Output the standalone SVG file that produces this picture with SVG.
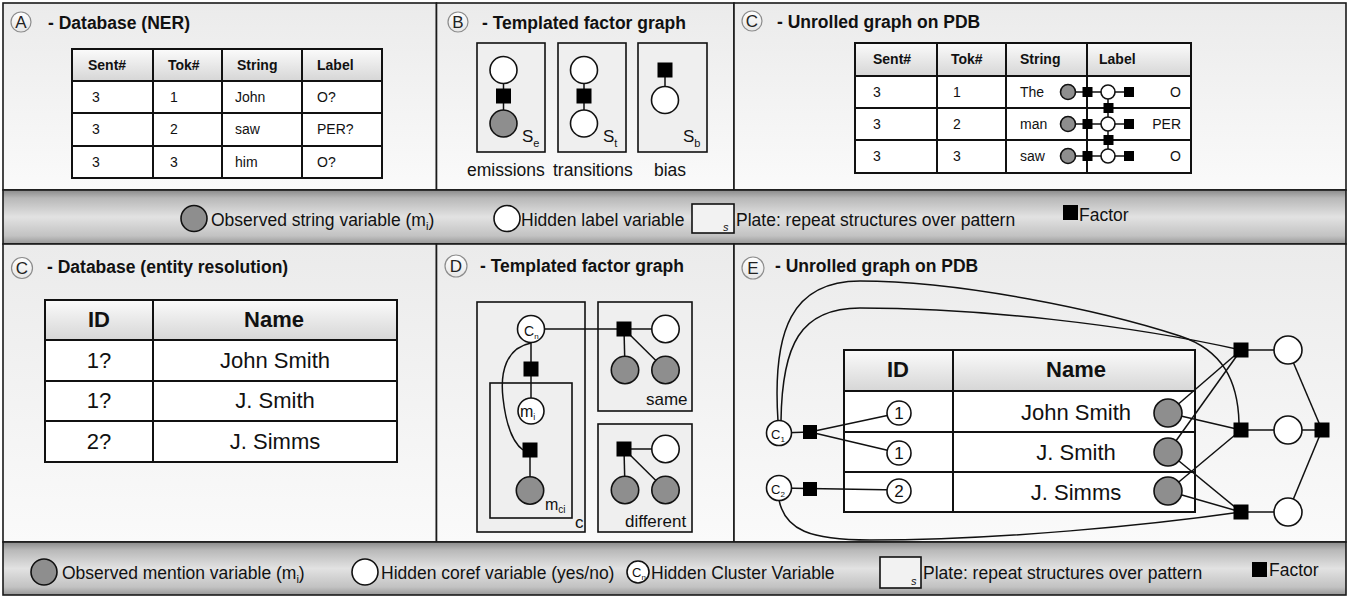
<svg xmlns="http://www.w3.org/2000/svg" width="1355" height="598" viewBox="0 0 1355 598">
<defs>
<linearGradient id="pg" x1="0" y1="0" x2="0" y2="1"><stop offset="0" stop-color="#ebebeb"/><stop offset="1" stop-color="#fafafa"/></linearGradient>
<linearGradient id="lg" x1="0" y1="0" x2="0" y2="1"><stop offset="0" stop-color="#8a8a8a"/><stop offset="0.15" stop-color="#b8b8b8"/><stop offset="0.5" stop-color="#e2e2e2"/><stop offset="0.85" stop-color="#c2c2c2"/><stop offset="1" stop-color="#979797"/></linearGradient>
<linearGradient id="hg" x1="0" y1="0" x2="0" y2="1"><stop offset="0" stop-color="#fbfbfb"/><stop offset="1" stop-color="#d6d6d6"/></linearGradient>
<linearGradient id="cg" x1="0" y1="0" x2="0" y2="1"><stop offset="0" stop-color="#ffffff"/><stop offset="1" stop-color="#e6e6e6"/></linearGradient>
<style>
.panel{fill:url(#pg);stroke:#1a1a1a;stroke-width:1.6}
.legend{fill:url(#lg);stroke:#1a1a1a;stroke-width:1.6}
text{font-family:"Liberation Sans",Arial,Helvetica,sans-serif;fill:#111}
.b{font-weight:bold}
.ttl{font-size:17.5px;font-weight:bold}
.leg{font-size:17.5px}
.lab{fill:url(#cg);stroke:#8c8c8c;stroke-width:1.2}
.labt{font-size:17px;fill:#222;text-anchor:middle}
.obs{fill:#8e8e8e;stroke:#111;stroke-width:1.6}
.hid{fill:#fff;stroke:#111;stroke-width:1.6}
.fac{fill:#000}
.plate{fill:#efefef;stroke:#111;stroke-width:1.6}
.edge{stroke:#111;stroke-width:1.5;fill:none}
.tbl{fill:none;stroke:#111;stroke-width:2}
.tl{stroke:#111;stroke-width:2}
.hdr{fill:url(#hg)}
.cell{fill:#fff}
.sm{font-size:14px}
.big{font-size:22px}
.mid{text-anchor:middle}
.end{text-anchor:end}
</style>
</defs>

<!-- Panel A -->
<g id="panelA">
<rect class="panel" x="3" y="3" width="433.5" height="187"/>
<circle class="lab" cx="21" cy="22" r="10"/>
<text class="labt" x="21" y="28">A</text>
<text class="ttl" x="48" y="29">- Database (NER)</text>
<rect class="hdr" x="72" y="49" width="310" height="32"/>
<rect class="cell" x="72" y="81" width="310" height="97"/>
<line class="tl" x1="72" y1="81" x2="382" y2="81"/>
<line class="tl" x1="72" y1="113" x2="382" y2="113"/>
<line class="tl" x1="72" y1="146" x2="382" y2="146"/>
<line class="tl" x1="153" y1="49" x2="153" y2="178"/>
<line class="tl" x1="222" y1="49" x2="222" y2="178"/>
<line class="tl" x1="302" y1="49" x2="302" y2="178"/>
<rect class="tbl" x="72" y="49" width="310" height="129"/>
<text class="sm b" x="88" y="70">Sent#</text>
<text class="sm b" x="168" y="70">Tok#</text>
<text class="sm b" x="237" y="70">String</text>
<text class="sm b" x="317" y="70">Label</text>
<text class="sm" x="92" y="102">3</text><text class="sm" x="170" y="102">1</text><text class="sm" x="235" y="102">John</text><text class="sm" x="317" y="102">O?</text>
<text class="sm" x="92" y="134">3</text><text class="sm" x="170" y="134">2</text><text class="sm" x="235" y="134">saw</text><text class="sm" x="317" y="134">PER?</text>
<text class="sm" x="92" y="167">3</text><text class="sm" x="170" y="167">3</text><text class="sm" x="235" y="167">him</text><text class="sm" x="317" y="167">O?</text>
</g>

<!-- Panel B -->
<g id="panelB">
<rect class="panel" x="436.5" y="3" width="297.5" height="187"/>
<circle class="lab" cx="458" cy="22" r="10"/>
<text class="labt" x="458" y="28">B</text>
<text class="ttl" x="482" y="29">- Templated factor graph</text>
<rect class="plate" x="477" y="43" width="68" height="109"/>
<rect class="plate" x="558" y="43" width="68" height="109"/>
<rect class="plate" x="638" y="43" width="69" height="109"/>
<text x="522" y="142" font-size="17">S<tspan font-size="11" dy="5">e</tspan></text>
<text x="603" y="142" font-size="17">S<tspan font-size="11" dy="5">t</tspan></text>
<text x="683" y="142" font-size="17">S<tspan font-size="11" dy="5">b</tspan></text>
<text x="467" y="176" font-size="17.5">emissions</text>
<text x="553" y="176" font-size="17.5">transitions</text>
<text x="654" y="176" font-size="17.5">bias</text>
</g>

<!-- Panel C (top) -->
<g id="panelC1">
<rect class="panel" x="734" y="3" width="612" height="187"/>
<circle class="lab" cx="752" cy="21" r="10"/>
<text class="labt" x="752" y="27">C</text>
<text class="ttl" x="777" y="28">- Unrolled graph on PDB</text>
<rect class="hdr" x="855" y="43" width="336" height="33"/>
<rect class="cell" x="855" y="76" width="336" height="97"/>
<line class="tl" x1="855" y1="76" x2="1191" y2="76"/>
<line class="tl" x1="855" y1="108" x2="1191" y2="108"/>
<line class="tl" x1="855" y1="140" x2="1191" y2="140"/>
<line class="tl" x1="937" y1="43" x2="937" y2="173"/>
<line class="tl" x1="1006" y1="43" x2="1006" y2="173"/>
<line class="tl" x1="1087" y1="43" x2="1087" y2="173"/>
<rect class="tbl" x="855" y="43" width="336" height="130"/>
<text class="sm b" x="873" y="64">Sent#</text>
<text class="sm b" x="951" y="64">Tok#</text>
<text class="sm b" x="1020" y="64">String</text>
<text class="sm b" x="1099" y="64">Label</text>
<text class="sm" x="873" y="97">3</text><text class="sm" x="953" y="97">1</text><text class="sm" x="1020" y="97">The</text><text class="sm end" x="1181" y="97">O</text>
<text class="sm" x="873" y="129">3</text><text class="sm" x="953" y="129">2</text><text class="sm" x="1020" y="129">man</text><text class="sm end" x="1181" y="129">PER</text>
<text class="sm" x="873" y="161">3</text><text class="sm" x="953" y="161">3</text><text class="sm" x="1020" y="161">saw</text><text class="sm end" x="1181" y="161">O</text>
</g>

<!-- Legend top -->
<g id="legend1">
<rect class="legend" x="3" y="190" width="1343" height="54"/>
<circle class="obs" cx="194" cy="218.5" r="13"/>
<text class="leg" x="211" y="226">Observed string variable (m<tspan font-size="11" dy="4">i</tspan><tspan dy="-4">)</tspan></text>
<circle class="hid" cx="507" cy="218.5" r="13"/>
<text class="leg" x="521" y="226">Hidden label variable</text>
<rect x="692" y="204" width="42" height="29" fill="#f2f2f2" stroke="#111" stroke-width="1.6"/>
<text x="723" y="231" font-size="11" font-style="italic">s</text>
<text class="leg" x="736" y="226">Plate: repeat structures over pattern</text>
<rect class="fac" x="1063" y="205" width="15" height="15"/>
<text class="leg" x="1079" y="221">Factor</text>
</g>

<!-- Panel C (bottom) -->
<g id="panelC2">
<rect class="panel" x="3" y="244" width="433.5" height="298"/>
<circle class="lab" cx="22" cy="268" r="10.5"/>
<text class="labt" x="22" y="274">C</text>
<text class="ttl" x="47" y="273">- Database (entity resolution)</text>
<rect class="hdr" x="45" y="300" width="352" height="40"/>
<rect class="cell" x="45" y="340" width="352" height="122"/>
<line class="tl" x1="45" y1="340" x2="397" y2="340" stroke-width="2.5"/>
<line class="tl" x1="45" y1="381" x2="397" y2="381"/>
<line class="tl" x1="45" y1="421" x2="397" y2="421"/>
<line class="tl" x1="153" y1="300" x2="153" y2="462" stroke-width="2.5"/>
<rect class="tbl" x="45" y="300" width="352" height="162" stroke-width="2.5"/>
<text class="big b mid" x="99" y="327">ID</text>
<text class="big b mid" x="274" y="327">Name</text>
<text class="big mid" x="99" y="368">1?</text><text class="big mid" x="275" y="368">John Smith</text>
<text class="big mid" x="99" y="408">1?</text><text class="big mid" x="275" y="408">J. Smith</text>
<text class="big mid" x="99" y="449">2?</text><text class="big mid" x="275" y="449">J. Simms</text>
</g>

<!-- Panel D -->
<g id="panelD">
<rect class="panel" x="436.5" y="244" width="297.5" height="298"/>
<circle class="lab" cx="456" cy="266" r="11"/>
<text class="labt" x="456" y="272">D</text>
<text class="ttl" x="480" y="272">- Templated factor graph</text>
<rect class="plate" x="477" y="302" width="108" height="230"/>
<rect class="plate" x="490" y="383" width="82" height="135"/>
<rect class="plate" x="598" y="302" width="94" height="109"/>
<rect class="plate" x="598" y="424" width="94" height="108"/>
<text x="575" y="528" font-size="17">c</text>
<text x="646" y="405" font-size="17">same</text>
<text x="625" y="527" font-size="17">different</text>
<text x="545" y="510" font-size="16">m<tspan font-size="10" dy="3">ci</tspan></text>
</g>

<!-- Panel E -->
<g id="panelE">
<rect class="panel" x="734" y="244" width="612" height="298"/>
<circle class="lab" cx="753" cy="268" r="11"/>
<text class="labt" x="753" y="274">E</text>
<text class="ttl" x="775" y="272">- Unrolled graph on PDB</text>
<rect class="hdr" x="844" y="350" width="351" height="41"/>
<rect class="cell" x="844" y="391" width="351" height="121"/>
<line class="tl" x1="844" y1="391" x2="1195" y2="391" stroke-width="2.5"/>
<line class="tl" x1="844" y1="432" x2="1195" y2="432"/>
<line class="tl" x1="844" y1="472" x2="1195" y2="472"/>
<line class="tl" x1="953" y1="350" x2="953" y2="512" stroke-width="2.5"/>
<rect class="tbl" x="844" y="350" width="351" height="162" stroke-width="2.5"/>
<text class="big b mid" x="898" y="377">ID</text>
<text class="big b mid" x="1076" y="377">Name</text>
<text class="big mid" x="1076" y="420">John Smith</text>
<text class="big mid" x="1076" y="460">J. Smith</text>
<text class="big mid" x="1076" y="500">J. Simms</text>
</g>

<!-- Legend bottom -->
<g id="legend2">
<rect class="legend" x="3" y="542" width="1343" height="53"/>
<circle class="obs" cx="44" cy="572" r="13"/>
<text class="leg" x="62" y="579">Observed mention variable (m<tspan font-size="11" dy="4">i</tspan><tspan dy="-4">)</tspan></text>
<circle class="hid" cx="365" cy="572" r="13"/>
<text class="leg" x="381" y="579">Hidden coref variable (yes/no)</text>
<circle class="hid" cx="638" cy="572" r="11"/>
<text x="632" y="577" font-size="13">C<tspan font-size="8" dy="3">n</tspan></text>
<text class="leg" x="651" y="579">Hidden Cluster Variable</text>
<rect x="880" y="557" width="41" height="31" fill="#f2f2f2" stroke="#111" stroke-width="1.6"/>
<text x="911" y="585" font-size="11" font-style="italic">s</text>
<text class="leg" x="923" y="579">Plate: repeat structures over pattern</text>
<rect class="fac" x="1252" y="562" width="15" height="15"/>
<text class="leg" x="1269" y="576">Factor</text>
</g>

<!-- Connectors -->
<g id="connectors" class="edge">
<!-- B -->
<line x1="503.5" y1="70" x2="503.5" y2="123.5"/>
<line x1="584" y1="70" x2="584" y2="123.5"/>
<line x1="665" y1="70" x2="665" y2="100"/>
<!-- C top -->
<line x1="1068" y1="92" x2="1129" y2="92"/>
<line x1="1068" y1="124" x2="1129" y2="124"/>
<line x1="1068" y1="156" x2="1129" y2="156"/>
<line x1="1108" y1="92" x2="1108" y2="156"/>
<!-- D -->
<line x1="531" y1="329" x2="665.5" y2="329"/>
<line x1="531" y1="329" x2="531" y2="411"/>
<line x1="530" y1="450" x2="530" y2="490"/>
<path d="M531 343 C506 348 500 372 503 398 C506 425 512 442 523 450"/>
<line x1="624" y1="329" x2="625" y2="370"/>
<line x1="624" y1="329" x2="665.5" y2="370"/>
<line x1="624" y1="449" x2="665.5" y2="449"/>
<line x1="624" y1="449" x2="625" y2="490"/>
<line x1="624" y1="449" x2="665.5" y2="490"/>
<!-- E -->
<line x1="779" y1="433" x2="810" y2="432"/>
<line x1="810" y1="432" x2="899" y2="413"/>
<line x1="810" y1="432" x2="899" y2="453"/>
<line x1="779" y1="488" x2="899" y2="490"/>
<path d="M778 421 C772 330 792 281 860 281 C960 281 1100 310 1180 336 C1222 350 1238 380 1239 423"/>
<path d="M781 421 C782 345 800 308 860 308 C980 308 1130 325 1241 350"/>
<path d="M779 500 C785 530 810 540 870 540 C1000 540 1150 525 1241 512"/>
<line x1="1168" y1="413" x2="1241" y2="350"/>
<line x1="1168" y1="413" x2="1241" y2="430"/>
<line x1="1168" y1="452" x2="1241" y2="350"/>
<line x1="1168" y1="452" x2="1241" y2="512"/>
<line x1="1168" y1="491" x2="1241" y2="430"/>
<line x1="1168" y1="491" x2="1241" y2="512"/>
<line x1="1241" y1="350" x2="1288" y2="350"/>
<line x1="1241" y1="430" x2="1322" y2="430"/>
<line x1="1241" y1="512" x2="1288" y2="512"/>
<line x1="1288" y1="350" x2="1322" y2="430"/>
<line x1="1288" y1="512" x2="1322" y2="430"/>
</g>

<!-- Nodes -->
<g id="nodesB">
<circle class="hid" cx="503.5" cy="70" r="13.5"/>
<rect class="fac" x="496" y="88.5" width="15" height="15"/>
<circle class="obs" cx="503.5" cy="123.5" r="13.5"/>
<circle class="hid" cx="584" cy="70" r="13.5"/>
<rect class="fac" x="576.5" y="88.5" width="15" height="15"/>
<circle class="hid" cx="584" cy="123.5" r="13.5"/>
<rect class="fac" x="657.5" y="62.5" width="15" height="15"/>
<circle class="hid" cx="665" cy="100" r="13.5"/>
</g>
<g id="nodesC1">
<circle class="obs" cx="1068" cy="92" r="7.5"/>
<circle class="obs" cx="1068" cy="124" r="7.5"/>
<circle class="obs" cx="1068" cy="156" r="7.5"/>
<rect class="fac" x="1082.5" y="87" width="10" height="10"/>
<rect class="fac" x="1082.5" y="119" width="10" height="10"/>
<rect class="fac" x="1082.5" y="151" width="10" height="10"/>
<circle class="hid" cx="1108" cy="92" r="7"/>
<circle class="hid" cx="1108" cy="124" r="7"/>
<circle class="hid" cx="1108" cy="156" r="7"/>
<rect class="fac" x="1124" y="87" width="10" height="10"/>
<rect class="fac" x="1124" y="119" width="10" height="10"/>
<rect class="fac" x="1124" y="151" width="10" height="10"/>
<rect class="fac" x="1103.5" y="103" width="10" height="10"/>
<rect class="fac" x="1103.5" y="135" width="10" height="10"/>
</g>
<g id="nodesD">
<circle class="hid" cx="531" cy="329" r="13.5"/>
<text x="524" y="336" font-size="14">C<tspan font-size="8" dy="3">n</tspan></text>
<rect class="fac" x="523.5" y="361.5" width="15" height="15"/>
<circle class="hid" cx="531" cy="411" r="13"/>
<text x="520" y="417" font-size="16">m<tspan font-size="9" dy="3">i</tspan></text>
<rect class="fac" x="522.5" y="442.5" width="15" height="15"/>
<circle class="obs" cx="530" cy="490.5" r="13.7"/>
<rect class="fac" x="616.5" y="321.5" width="15" height="15"/>
<circle class="hid" cx="665.5" cy="329" r="13.7"/>
<circle class="obs" cx="625" cy="370" r="13.7"/>
<circle class="obs" cx="665.5" cy="370" r="13.7"/>
<rect class="fac" x="616.5" y="441.5" width="15" height="15"/>
<circle class="hid" cx="665.5" cy="449" r="13.7"/>
<circle class="obs" cx="625" cy="490" r="13.7"/>
<circle class="obs" cx="665.5" cy="490" r="13.7"/>
</g>
<g id="nodesE">
<circle class="hid" cx="779" cy="433" r="12.5"/>
<text x="771" y="439" font-size="13">C<tspan font-size="8" dy="3">1</tspan></text>
<circle class="hid" cx="779" cy="488" r="12.5"/>
<text x="771" y="494" font-size="13">C<tspan font-size="8" dy="3">2</tspan></text>
<rect class="fac" x="803" y="425" width="14" height="14"/>
<rect class="fac" x="803" y="482" width="14" height="14"/>
<circle class="hid" cx="899" cy="413" r="12"/>
<text class="mid" x="899" y="419" font-size="17">1</text>
<circle class="hid" cx="899" cy="453" r="12"/>
<text class="mid" x="899" y="459" font-size="17">1</text>
<circle class="hid" cx="899" cy="491" r="12"/>
<text class="mid" x="899" y="497" font-size="17">2</text>
<circle class="obs" cx="1168" cy="413" r="14"/>
<circle class="obs" cx="1168" cy="452" r="14"/>
<circle class="obs" cx="1168" cy="491" r="14"/>
<rect class="fac" x="1233.5" y="342.5" width="15" height="15"/>
<rect class="fac" x="1233.5" y="422.5" width="15" height="15"/>
<rect class="fac" x="1233.5" y="504.5" width="15" height="15"/>
<circle class="hid" cx="1288" cy="350" r="14"/>
<circle class="hid" cx="1288" cy="430" r="14"/>
<circle class="hid" cx="1288" cy="512" r="14"/>
<rect class="fac" x="1314.5" y="422.5" width="15" height="15"/>
</g>
</svg>
